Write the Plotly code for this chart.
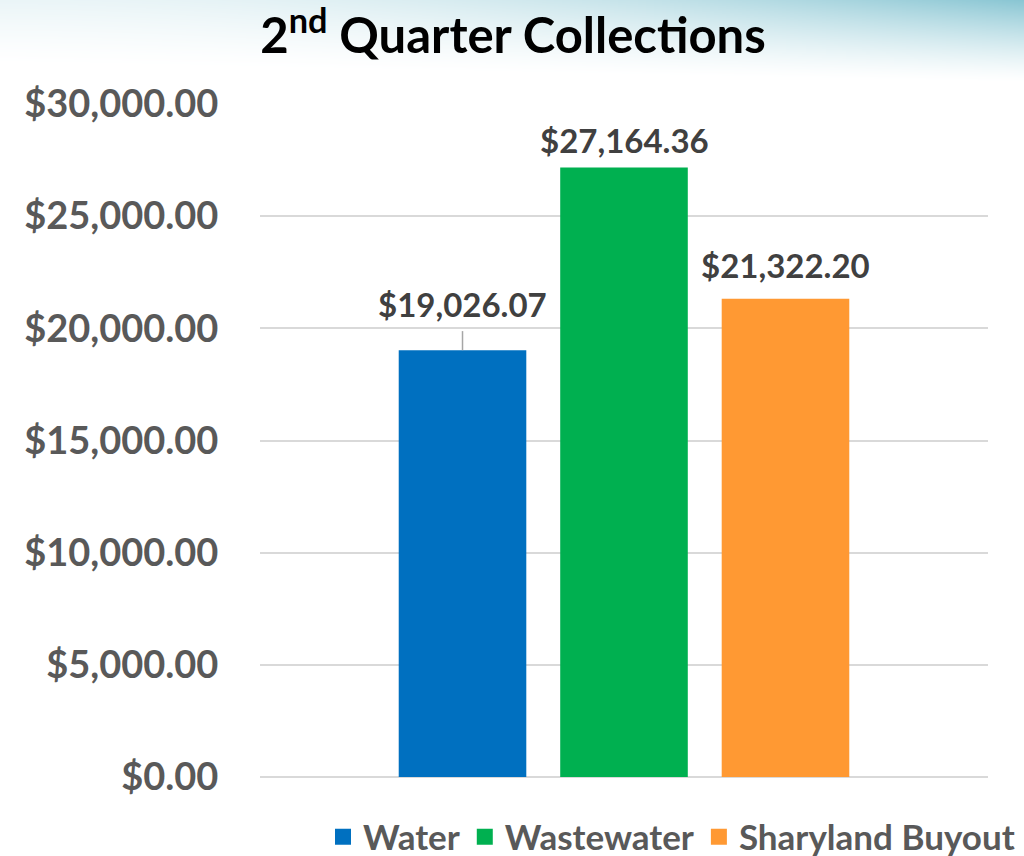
import base64
import struct
import zlib

import plotly.graph_objects as go

categories = ["Water", "Wastewater", "Sharyland Buyout"]
values = [19026.07, 27164.36, 21322.20]
colors = ["#0070C0", "#00B050", "#FF9933"]
label_texts = ["$19,026.07", "$27,164.36", "$21,322.20"]
y_ticks = [0, 5000, 10000, 15000, 20000, 25000, 30000]
y_tick_labels = ["$0.00", "$5,000.00", "$10,000.00", "$15,000.00", "$20,000.00", "$25,000.00", "$30,000.00"]

FONT = "Lato"
W, H = 1024, 856
L, R, T, B = 260, 36, 104, 79
PW, PH = W - L - R, H - T - B


def gradient_png(w=256, h=90):
    teal = (138, 198, 211)
    rows = []
    for j in range(h):
        yy = j / h * 90.0
        row = bytearray([0])
        for i in range(w):
            xf = i / (w - 1)
            amp = 0.18 + 0.82 * xf ** 2.0
            depth = 64 + 18 * xf
            fall = max(0.0, 1 - yy / depth) ** 1.3
            a = amp * fall
            for c in teal:
                row.append(int(round(255 * (1 - a) + c * a)))
        rows.append(bytes(row))
    raw = b"".join(rows)

    def chunk(tag, data):
        return struct.pack(">I", len(data)) + tag + data + struct.pack(">I", zlib.crc32(tag + data) & 0xffffffff)

    png = b"\x89PNG\r\n\x1a\n"
    png += chunk(b"IHDR", struct.pack(">IIBBBBB", w, h, 8, 2, 0, 0, 0))
    png += chunk(b"IDAT", zlib.compress(raw, 9))
    png += chunk(b"IEND", b"")
    return "data:image/png;base64," + base64.b64encode(png).decode()


fig = go.Figure()
for i, (cat, val, col) in enumerate(zip(categories, values, colors)):
    fig.add_trace(go.Bar(
        x=[i], y=[val], name=cat, width=0.79, showlegend=False,
        marker=dict(color=col, line=dict(width=0)),
        hoverinfo="skip",
    ))
for cat, col in zip(categories, colors):
    fig.add_trace(go.Scatter(
        x=[None], y=[None], mode="markers", name="<b>%s</b>" % cat,
        marker=dict(symbol="square", size=19, color=col), hoverinfo="skip",
    ))

label_shifts = [46, 28, 34]
annotations = []
for i, (val, txt) in enumerate(zip(values, label_texts)):
    annotations.append(dict(
        x=i, y=val, xref="x", yref="y", text="<b>%s</b>" % txt, showarrow=False,
        yshift=label_shifts[i], font=dict(family=FONT, size=33, color="#404040"),
        xanchor="center", yanchor="middle",
    ))

shapes = [dict(type="line", xref="x", yref="y", x0=0, x1=0,
               y0=values[0], y1=values[0] + 850,
               line=dict(color="#A6A6A6", width=1.5), layer="above")]

fig.update_layout(
    width=W, height=H,
    margin=dict(l=L, r=R, t=T, b=B, pad=0, autoexpand=False),
    paper_bgcolor="white", plot_bgcolor="rgba(0,0,0,0)",
    barmode="overlay",
    title=dict(text="<b>2<sup>nd</sup> Quarter Collections</b>", x=513 / W, xanchor="center",
               xref="container", y=1 - 36 / H, yanchor="middle", yref="container",
               font=dict(family=FONT, size=49, color="#000000")),
    xaxis=dict(range=[-1.254, 3.254], showticklabels=False, showgrid=False,
               zeroline=False, showline=False, fixedrange=True, automargin=False),
    yaxis=dict(range=[0, 30000], tickvals=y_ticks, ticktext=["<b>%s</b>" % t for t in y_tick_labels],
               tickfont=dict(family=FONT, size=38, color="#595959"),
               showgrid=True, gridcolor="#D9D9D9", gridwidth=2,
               zeroline=True, zerolinecolor="#D9D9D9", zerolinewidth=2,
               ticks="outside", ticklen=33, tickcolor="rgba(0,0,0,0)", showline=False,
               automargin=False),
    legend=dict(orientation="h", x=(1020 - L) / PW, xanchor="right", y=(777 - 837) / PH, yanchor="middle",
                font=dict(family=FONT, size=35, color="#595959"),
                itemwidth=30, tracegroupgap=0, bgcolor="rgba(0,0,0,0)"),
    annotations=annotations,
    shapes=shapes,
    images=[dict(source=gradient_png(), xref="paper", yref="paper",
                 x=-L / PW, y=(H - B) / PH, sizex=W / PW, sizey=90 / PH,
                 xanchor="left", yanchor="top", sizing="stretch", layer="below")],
)

fig.write_html("out.html", config={"displayModeBar": False},
               post_script="document.body.style.margin='0';document.body.style.overflow='hidden';")
